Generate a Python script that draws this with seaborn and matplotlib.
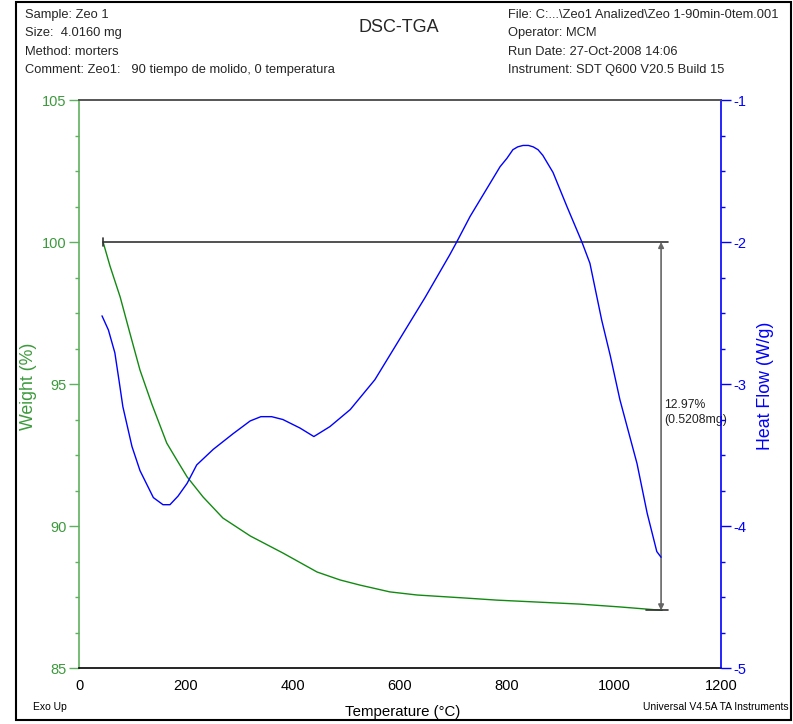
import numpy as np
import pandas as pd
import matplotlib
matplotlib.use("Agg")
import matplotlib.pyplot as plt
from matplotlib.patches import Rectangle
from matplotlib.ticker import MultipleLocator
import seaborn as sns

# ---- data ----
temp_w = [45, 58, 77, 95, 114, 136, 164, 183, 202, 232, 269, 320, 381, 445, 488, 525, 581, 632,
          725, 781, 936, 1011, 1090]
weight = [100.0, 99.15, 98.06, 96.8, 95.49, 94.3, 92.92, 92.32, 91.73, 91.02, 90.28, 89.65,
          89.05, 88.38, 88.10, 87.92, 87.68, 87.57, 87.46, 87.39, 87.25, 87.15, 87.03]

temp_h = [43, 55, 67, 75, 82, 99, 114, 139, 157, 170, 185, 202, 220, 251, 288, 320, 340, 360,
          381, 413, 439, 469, 507, 553, 600, 647, 693, 706, 731, 755, 787, 800, 811, 820, 830, 840,
          849, 858, 867, 886, 912, 940, 955, 977, 993, 1011, 1043, 1062, 1080, 1088]
heat = [-2.52, -2.62, -2.78, -2.98, -3.16, -3.44, -3.61, -3.80, -3.85, -3.85, -3.79, -3.70, -3.57,
        -3.46, -3.35, -3.26, -3.23, -3.23, -3.25, -3.31, -3.37, -3.30, -3.18, -2.97, -2.68, -2.39,
        -2.09, -2.00, -1.82, -1.67, -1.47, -1.41, -1.35, -1.33, -1.32, -1.32, -1.33, -1.35, -1.39,
        -1.51, -1.75, -2.00, -2.15, -2.55, -2.80, -3.11, -3.56, -3.91, -4.18, -4.22]

x_ticks = [0, 200, 400, 600, 800, 1000, 1200]
w_ticks = [85, 90, 95, 100, 105]
h_ticks = [-5, -4, -3, -2, -1]

header_left = ["Sample: Zeo 1", "Size:  4.0160 mg", "Method: morters",
               "Comment: Zeo1:   90 tiempo de molido, 0 temperatura"]
header_right = ["File: C:...\\Zeo1 Analized\\Zeo 1-90min-0tem.001", "Operator: MCM",
                "Run Date: 27-Oct-2008 14:06", "Instrument: SDT Q600 V20.5 Build 15"]
loss_label = "12.97%\n(0.5208mg)"

w_start, w_end = 100.0, 87.03

sns.set_style("white")
plt.rcParams['font.family'] = ['Liberation Sans', 'DejaVu Sans']
plt.rcParams['axes.unicode_minus'] = False

GREEN_LINE = "#128a12"
GREEN_AX = "#5fb05f"
GREEN_TXT = "#3c9a3c"
BLUE = "#0000ff"

fig = plt.figure(figsize=(7.93, 7.24), dpi=100)
ax = fig.add_axes([79/793, 1-668/724, 642/793, 568/724])
ax2 = ax.twinx()

dfw = pd.DataFrame({"T": temp_w, "W": weight})
dfh = pd.DataFrame({"T": temp_h, "H": heat})
sns.lineplot(data=dfw, x="T", y="W", ax=ax, color=GREEN_LINE, lw=1.0)
sns.lineplot(data=dfh, x="T", y="H", ax=ax2, color=BLUE, lw=1.0)

ax.set_xlim(0, 1200)
ax.set_ylim(85, 105)
ax2.set_ylim(-5, -1)

ax.set_xticks(x_ticks)
ax.xaxis.set_minor_locator(MultipleLocator(50))
ax.set_yticks(w_ticks)
ax.yaxis.set_minor_locator(MultipleLocator(1.25))
ax2.set_yticks(h_ticks)
ax2.yaxis.set_minor_locator(MultipleLocator(0.25))

for a in (ax, ax2):
    for s in a.spines.values():
        s.set_linewidth(1.2)
ax.spines['left'].set_color(GREEN_AX)
ax.spines['bottom'].set_color('black')
ax.spines['top'].set_color('#555555')
ax.spines['right'].set_visible(False)
ax2.spines['right'].set_color(BLUE)
ax2.spines['left'].set_visible(False)
ax2.spines['top'].set_color('#555555')
ax2.spines['bottom'].set_visible(False)

ax.tick_params(axis='x', which='major', direction='out', length=6, width=1, colors='black',
               labelsize=10.5, pad=2)
ax.tick_params(axis='x', which='minor', direction='out', length=3, width=1, colors='black')
ax.tick_params(axis='y', which='major', direction='out', length=7, width=1, colors=GREEN_AX,
               labelcolor=GREEN_TXT, labelsize=10.5, pad=2)
ax.tick_params(axis='y', which='minor', direction='out', length=3, width=1, colors=GREEN_AX)
ax2.tick_params(axis='y', which='major', direction='out', length=7, width=1, colors=BLUE,
                labelcolor=BLUE, labelsize=10.5, pad=2)
ax2.tick_params(axis='y', which='minor', direction='out', length=3, width=1, colors=BLUE)

ax.set_xlabel("")
ax.set_ylabel("")
ax2.set_ylabel("")

# annotation of the weight loss
ax.plot([temp_w[0], 1101], [w_start, w_start], color='#333333', lw=1.2)
ax.plot([temp_w[0], temp_w[0]], [w_start - 0.15, w_start + 0.15], color='#333333', lw=1.2)
ax.plot([1060, 1101], [w_end, w_end], color='#333333', lw=1.2)
ax.annotate("", xy=(1088, w_start), xytext=(1088, w_end),
            arrowprops=dict(arrowstyle='<|-|>', color='#666666', lw=1.2,
                            mutation_scale=8, shrinkA=0, shrinkB=0))
ax.text(1093, 94.0, loss_label, fontsize=8.8, ha='left', va='center',
        color='#222222', linespacing=1.3)

# axis labels
fig.text(29/793, 1-386/724, "Weight (%)", rotation=90, ha='center', va='center',
         color=GREEN_TXT, fontsize=12.8)
fig.text(765/793, 1-386/724, "Heat Flow (W/g)", rotation=90, ha='center', va='center',
         color=BLUE, fontsize=12.8)
fig.text(403/793, 1-712/724, "Temperature (°C)", ha='center', va='center',
         color='black', fontsize=10.8)
fig.text(33/793, 1-707/724, "Exo Up", ha='left', va='center', color='black', fontsize=7.5)
fig.text(789/793, 1-707/724, "Universal V4.5A TA Instruments", ha='right', va='center',
         color='black', fontsize=7.5)

# header
fig.text(399/793, 1-28/724, "DSC-TGA", ha='center', va='center', fontsize=13)
for i, s in enumerate(header_left):
    fig.text(25/793, 1-(15 + i*18.3)/724, s, ha='left', va='center', fontsize=9.3)
for i, s in enumerate(header_right):
    fig.text(508/793, 1-(15 + i*18.3)/724, s, ha='left', va='center', fontsize=9.3)

# frame around the page
fig.add_artist(Rectangle((16/793, 1-720/724), 775/793, 718/724, transform=fig.transFigure,
                         fill=False, edgecolor='black', lw=1.5))

fig.savefig("out.png", dpi=100)
